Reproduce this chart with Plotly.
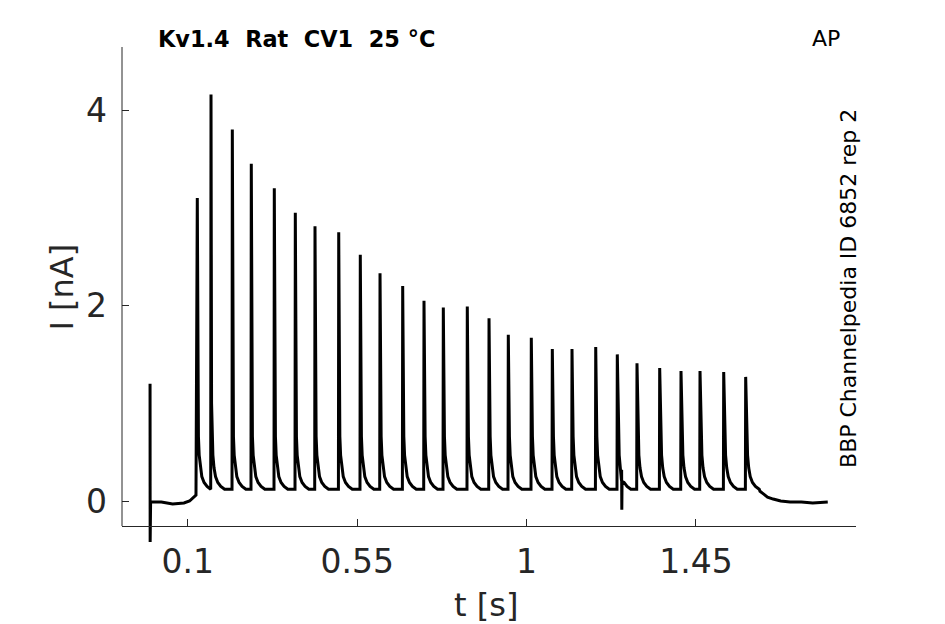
import plotly.graph_objects as go

# spike train (t in s, peak current in nA)
spike_t = [0.1255, 0.1619, 0.2185, 0.2689, 0.3300, 0.3858, 0.4381, 0.5011,
           0.5584, 0.6108, 0.6710, 0.7276, 0.7789, 0.8426, 0.9003, 0.9515,
           1.0126, 1.0684, 1.1207, 1.1837, 1.2410, 1.2933, 1.3536, 1.4102,
           1.4607, 1.5236, 1.5820]
spike_peak = [3.10, 4.16, 3.80, 3.45, 3.20, 2.95, 2.81, 2.75,
              2.52, 2.33, 2.20, 2.05, 1.98, 1.99, 1.87, 1.70,
              1.67, 1.555, 1.555, 1.575, 1.50, 1.41, 1.36, 1.33,
              1.33, 1.32, 1.27]

# decay after each spike (offset s, current nA)
tail_dt = [0.0015, 0.003, 0.005, 0.008, 0.012, 0.018, 0.026, 0.036]
tail_i = [1.00, 0.66, 0.47, 0.34, 0.25, 0.19, 0.15, 0.12]
base_i = 0.12

# stimulus artefact at start, holding before the train
art_t = [0.0, 0.0003, 0.0008, 0.0015]
art_i = [1.20, -0.42, -0.03, -0.01]
pre_t = [0.005, 0.03, 0.06, 0.09, 0.105, 0.115, 0.122]
pre_i = [-0.01, -0.01, -0.03, -0.02, 0.0, 0.03, 0.06]

# small glitch mid train
glitch_t = [1.2522, 1.2525, 1.2530, 1.2536]
glitch_i = [0.21, 0.32, -0.09, 0.20]

# after the train
post_t = [1.62, 1.63, 1.64, 1.655, 1.675, 1.70, 1.73, 1.76, 1.80]
post_i = [0.10, 0.07, 0.04, 0.02, 0.0, -0.01, -0.01, -0.02, -0.01]

pts = list(zip(art_t, art_i)) + list(zip(pre_t, pre_i))
for k, (ts, pk) in enumerate(zip(spike_t, spike_peak)):
    nxt = spike_t[k + 1] if k + 1 < len(spike_t) else 9
    if k > 0:
        pts.append((ts - 0.0008, base_i))
    pts.append((ts, pk))
    for dt, v in zip(tail_dt, tail_i):
        if ts + dt < nxt - 0.0012:
            pts.append((ts + dt, v))
pts += list(zip(glitch_t, glitch_i))
pts += list(zip(post_t, post_i))
pts.sort(key=lambda p: p[0])
t = [p[0] for p in pts]
cur = [p[1] for p in pts]

ax_col = "#262626"
fnt = "DejaVu Sans"

fig = go.Figure()
fig.add_trace(go.Scatter(x=t, y=cur, mode="lines",
                         line=dict(color="black", width=3), showlegend=False))

# page body has an 8px margin, so the figure is 8px smaller and shifted
fig.update_layout(
    width=937, height=616,
    margin=dict(l=114, r=89, t=39, b=79),
    plot_bgcolor="white", paper_bgcolor="white",
    font=dict(family=fnt, color=ax_col),
    xaxis=dict(range=[-0.0745, 1.875], anchor="free", position=0.03815,
               tickvals=[0.1, 0.55, 1, 1.45], ticktext=["0.1", "0.55", "1", "1.45"],
               ticks="inside", ticklen=7, tickcolor=ax_col,
               showline=True, linecolor=ax_col, linewidth=1,
               showgrid=False, zeroline=False, ticklabelstandoff=6,
               tickfont=dict(size=33, color=ax_col, family=fnt)),
    yaxis=dict(range=[-0.45, 4.645], tickvals=[0, 2, 4], ticktext=["0", "2", "4"],
               ticks="inside", ticklen=7, tickcolor=ax_col,
               showline=False, showgrid=False, zeroline=False,
               ticklabelstandoff=14,
               tickfont=dict(size=33, color=ax_col, family=fnt)),
    shapes=[dict(type="line", xref="paper", yref="y", x0=0, x1=0,
                 y0=-0.256, y1=4.645, line=dict(color=ax_col, width=1))],
    annotations=[
        dict(text="<b>Kv1.4\u00a0\u00a0Rat\u00a0\u00a0CV1\u00a0\u00a025 °C</b>",
             xref="paper", yref="paper", x=0.0463, y=1.016,
             xanchor="left", yanchor="middle", showarrow=False,
             font=dict(size=22.4, color="black", family=fnt)),
        dict(text="AP", xref="paper", yref="paper", x=0.959, y=1.018,
             xanchor="center", yanchor="middle", showarrow=False,
             font=dict(size=22, color="black", family=fnt)),
        dict(text="BBP Channelpedia ID 6852 rep 2", xref="paper", yref="paper",
             x=0.989, y=0.516, textangle=-90, xanchor="center", yanchor="middle",
             showarrow=False, font=dict(size=22, color="black", family=fnt)),
        dict(text="I [nA]", xref="paper", yref="paper", x=-0.0817, y=0.517,
             textangle=-90, xanchor="center", yanchor="middle", showarrow=False,
             font=dict(size=32, color=ax_col, family=fnt)),
        dict(text="t [s]", xref="paper", yref="paper", x=0.496, y=-0.1205,
             xanchor="center", yanchor="middle", showarrow=False,
             font=dict(size=32, color=ax_col, family=fnt)),
    ],
)

fig.write_html("out.html")
